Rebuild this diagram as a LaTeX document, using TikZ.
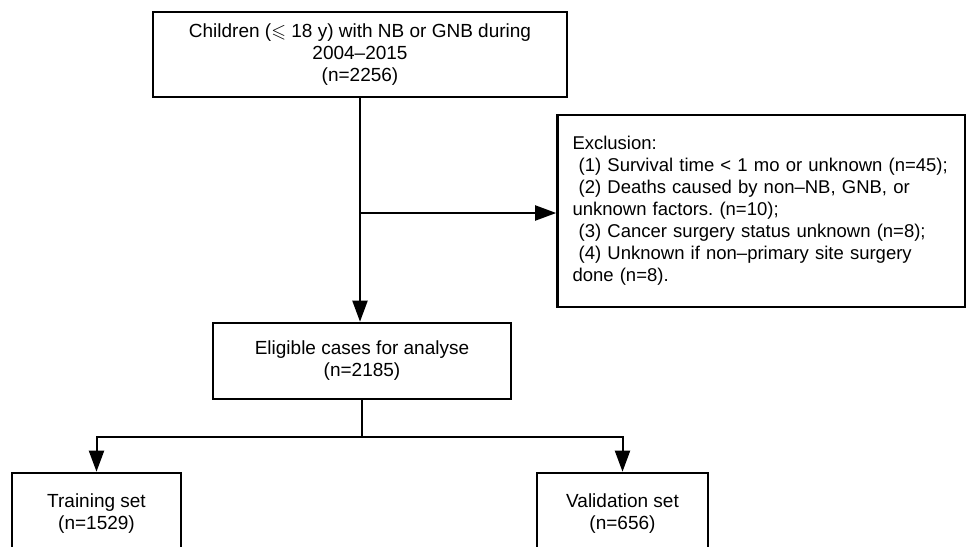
\documentclass[tikz,border=0pt]{standalone}
\usepackage{amsmath,amssymb}
\usepackage{fontspec}
\setmainfont{Liberation Sans}
\usepackage{xcolor}
\usetikzlibrary{calc,arrows.meta,positioning}
\definecolor{linec}{HTML}{000000}
\frenchspacing
\tikzset{
  ar/.style={-{Triangle[length=21pt,width=15pt]},line width=2pt,linec},
  ln/.style={line width=2pt,linec},
  box/.style={draw=linec,line width=2.6pt,rectangle,align=center,inner sep=0pt,font=\fontsize{19}{22}\selectfont},
  exbox/.style={box,align=left,inner xsep=15pt,text width=378pt,font=\fontsize{18.5}{22}\selectfont}
}
\begin{document}
\begin{tikzpicture}[x=1pt,y=-1pt]
\useasboundingbox (0,0) rectangle (966,546);
\clip (0,0) rectangle (966,546);
\node[box,minimum width=414pt,minimum height=85pt] (top) at (360,54.5)
  {Children ($\leqslant$ 18 y) with NB or GNB during\\2004--2015\\(n=2256)};
\node[exbox,minimum width=407pt,minimum height=192pt] (excl) at (761.5,211)
  {Exclusion:\\
   \ (1) Survival time < 1 mo or unknown (n=45);\\
   \ (2) Deaths caused by non--NB, GNB, or\\
   unknown factors. (n=10);\\
   \ (3) Cancer surgery status unknown (n=8);\\
   \ (4) Unknown if non--primary site surgery\\
   done (n=8).};
\node[box,minimum width=298pt,minimum height=76pt] (elig) at (362,361)
  {Eligible cases for analyse\\(n=2185)};
\node[box,minimum width=169pt,minimum height=82pt] (train) at (96.5,514)
  {Training set\\(n=1529)};
\node[box,minimum width=171pt,minimum height=82pt] (valid) at (622.5,514)
  {Validation set\\(n=656)};
% main flow
\draw[ar] (top.south) -- (top.south |- elig.north);
\coordinate (br) at (top.south |- 0,213);
\draw[ar] (br) -- (br -| excl.west);
% split
\coordinate (sp) at (362,437);
\draw[ln] (elig.south) -- (sp);
\draw[ar] (sp) -| (train.north);
\draw[ar] (sp) -| (valid.north);
\end{tikzpicture}
\end{document}
